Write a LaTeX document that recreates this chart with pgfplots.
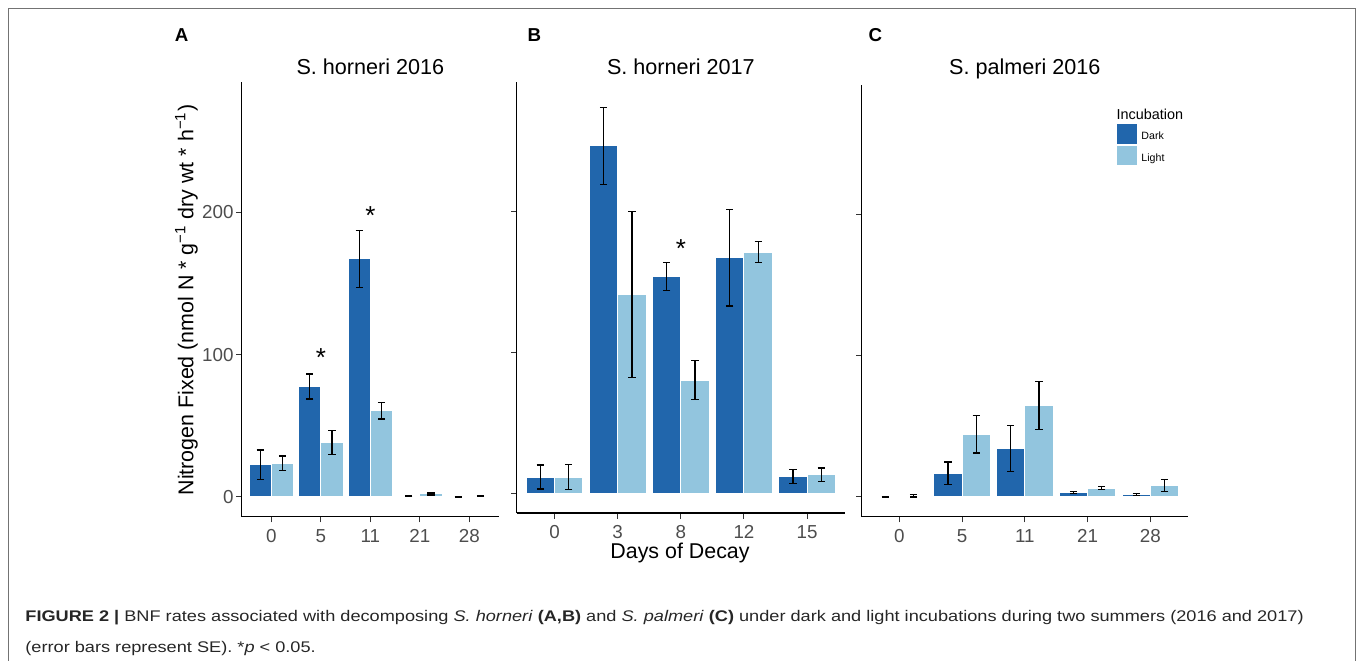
\documentclass[border=0pt]{standalone}
\usepackage{fontspec}
\setmainfont{Liberation Sans}
\usepackage{graphicx}
\usepackage{pgfplots}
\pgfplotsset{compat=1.18}

\definecolor{darkb}{HTML}{2166AC}
\definecolor{lightb}{HTML}{92C5DE}
\definecolor{tickgray}{HTML}{4D4D4D}

\pgfplotsset{
  panel/.style={
    scale only axis, anchor=south west,
    xmin=0.4, xmax=5.6, ymin=-14, ymax=292,
    axis lines*=left,
    axis line style={black, line width=0.7pt},
    xtick={1,2,3,4,5}, ytick={0,100,200},
    tick align=outside, major tick length=2.8pt,
    tick style={color=black!80, line width=0.5pt},
    every tick label/.append style={font=\fontsize{9.4}{10}\selectfont, text=tickgray},
    xticklabel style={inner sep=0pt, anchor=north, yshift=-3.3pt},
    yticklabel style={inner sep=0pt, anchor=east, xshift=-1.1pt},
    clip=false,
  },
  % bars are placed at their own x (category -/+ 0.225), so no bar shift
  bars/.style={ybar, bar width=0.45, bar shift=0pt, draw=white,
    line width=0.5pt, forget plot,
    error bars/.cd, y dir=both, y explicit, error mark=|,
    error bar style={black, line width=0.6pt},
    error mark options={black, line width=0.6pt, mark size=1.83pt}},
}
\tikzset{sigstar/.style={font=\fontsize{13}{13}\selectfont, anchor=base, inner sep=0pt, yshift=-7.5pt}}

\newlength\capw
\newcommand\capone{{\bfseries FIGURE 2 |} BNF rates associated with decomposing \textit{S. horneri} \textbf{(A,B)} and \textit{S. palmeri} \textbf{(C)} under dark and light incubations during two summers (2016 and 2017)}
\newcommand\captwo{(error bars represent SE). *\textit{p} < 0.05.}

\begin{document}%
\settowidth\capw{\fontsize{7.7}{9}\selectfont\capone}%
\pgfmathsetmacro\capf{639.15/(\capw/1pt)}%
\begin{tikzpicture}
\useasboundingbox (0pt,0pt) rectangle (678.5pt,-330pt);

% A: S. horneri 2016
\begin{axis}[panel, at={(120.85pt,-258.35pt)}, width=128.65pt, height=217.5pt,
    xticklabels={0,5,11,21,28}, yticklabels={0,100,200}]
  \addplot[fill=darkb, bars] coordinates {(0.775,22.6) +- (0,10.3) (1.775,77.6) +- (0,8.8)
      (2.775,167.3) +- (0,20.2) (3.775,0.8) +- (0,0.3) (4.775,0) +- (0,0.2)};
  \addplot[fill=lightb, bars] coordinates {(1.225,23.5) +- (0,5.2) (2.225,38.0) +- (0,8.4)
      (3.225,60.7) +- (0,5.9) (4.225,2.0) +- (0,0.7) (5.225,0.3) +- (0,0.2)};
  \node[sigstar] at (axis cs:2,102) {*};
  \node[sigstar] at (axis cs:3,202) {*};
\end{axis}

% B: S. horneri 2017
\begin{axis}[panel, at={(258.35pt,-256.5pt)}, width=164.15pt, height=215.65pt,
    xticklabels={0,3,8,12,15}, yticklabels={}]
  \addplot[fill=darkb, bars] coordinates {(0.775,11.5) +- (0,8.5) (1.775,246.5) +- (0,27.3)
      (2.775,153.7) +- (0,9.9) (3.775,167.0) +- (0,34.2) (4.775,12.1) +- (0,5.0)};
  \addplot[fill=lightb, bars] coordinates {(1.225,11.5) +- (0,8.9) (2.225,141.1) +- (0,59.0)
      (3.225,80.3) +- (0,13.9) (4.225,171.0) +- (0,7.5) (5.225,13.1) +- (0,4.9)};
  \node[sigstar] at (axis cs:3,178) {*};
\end{axis}

% C: S. palmeri 2016
\begin{axis}[panel, at={(430.85pt,-258.35pt)}, width=163.15pt, height=215.85pt,
    xticklabels={0,5,11,21,28}, yticklabels={},
    legend style={at={(0.7833,0.9097)}, anchor=north west, draw=none, fill=none,
      inner sep=0pt, outer sep=0pt, row sep=1.15pt,
      font=\fontsize{5.3}{6}\selectfont, nodes={inner sep=0pt},
      /tikz/every odd column/.append style={column sep=2.35pt}},
    legend cell align=left]
  \addplot[fill=darkb, bars] coordinates {(0.775,0) +- (0,0.15) (1.775,16.9) +- (0,7.9)
      (2.775,34.5) +- (0,16.4) (3.775,3.3) +- (0,0.7) (4.775,1.7) +- (0,0.85)};
  \addplot[fill=lightb, bars] coordinates {(1.225,0.9) +- (0,0.9) (2.225,44.5) +- (0,13.3)
      (3.225,64.9) +- (0,17.0) (4.225,6.2) +- (0,0.95) (5.225,7.9) +- (0,4.2)};
  \addlegendimage{legend image code/.code={\fill[darkb] (0pt,-2.775pt) rectangle (9.35pt,6.575pt);}}
  \addlegendentry{Dark}
  \addlegendimage{legend image code/.code={\fill[lightb] (0pt,-2.775pt) rectangle (9.35pt,6.575pt);}}
  \addlegendentry{Light}
\end{axis}

\begin{scope}[x=0.5pt, y=-0.5pt]
  % figure frame
  \draw[black!55, line width=0.5pt] (8.3,662) -- (8.3,8.3) -- (1355,8.3) -- (1355,662);
  % panel letters
  \node[font=\bfseries\fontsize{9.35}{10}\selectfont, anchor=base, inner sep=0pt] at (181.7,41.7) {A};
  \node[font=\bfseries\fontsize{9.35}{10}\selectfont, anchor=base, inner sep=0pt] at (534.3,41.7) {B};
  \node[font=\bfseries\fontsize{9.35}{10}\selectfont, anchor=base, inner sep=0pt] at (875.3,41.7) {C};
  % panel titles
  \node[font=\fontsize{10.8}{12}\selectfont, anchor=base, inner sep=0pt] at (370.35,74) {S. horneri 2016};
  \node[font=\fontsize{10.8}{12}\selectfont, anchor=base, inner sep=0pt] at (680.85,74) {S. horneri 2017};
  \node[font=\fontsize{10.8}{12}\selectfont, anchor=base, inner sep=0pt] at (1024.85,74) {S. palmeri 2016};
  % axis titles
  \node[rotate=90, anchor=base, inner sep=0pt, font=\fontsize{10.7}{12}\selectfont] at (193.3,300)
    {Nitrogen Fixed (nmol N * g\textsuperscript{−1} dry wt * h\textsuperscript{−1})};
  \node[anchor=base, inner sep=0pt, font=\fontsize{10.7}{12}\selectfont] at (680,558.3) {Days of Decay};
  % legend title
  \node[anchor=base west, inner sep=0pt, font=\fontsize{7.2}{8}\selectfont] at (1116.2,119) {Incubation};
  % caption
  \node[anchor=base west, inner sep=0pt, font=\fontsize{7.7}{9}\selectfont, text=black!85] at (25,621.7)
    {\scalebox{\capf}[1]{\capone}};
  \node[anchor=base west, inner sep=0pt, font=\fontsize{7.7}{9}\selectfont, text=black!85] at (25,652)
    {\scalebox{\capf}[1]{\captwo}};
\end{scope}
\end{tikzpicture}%
\end{document}
